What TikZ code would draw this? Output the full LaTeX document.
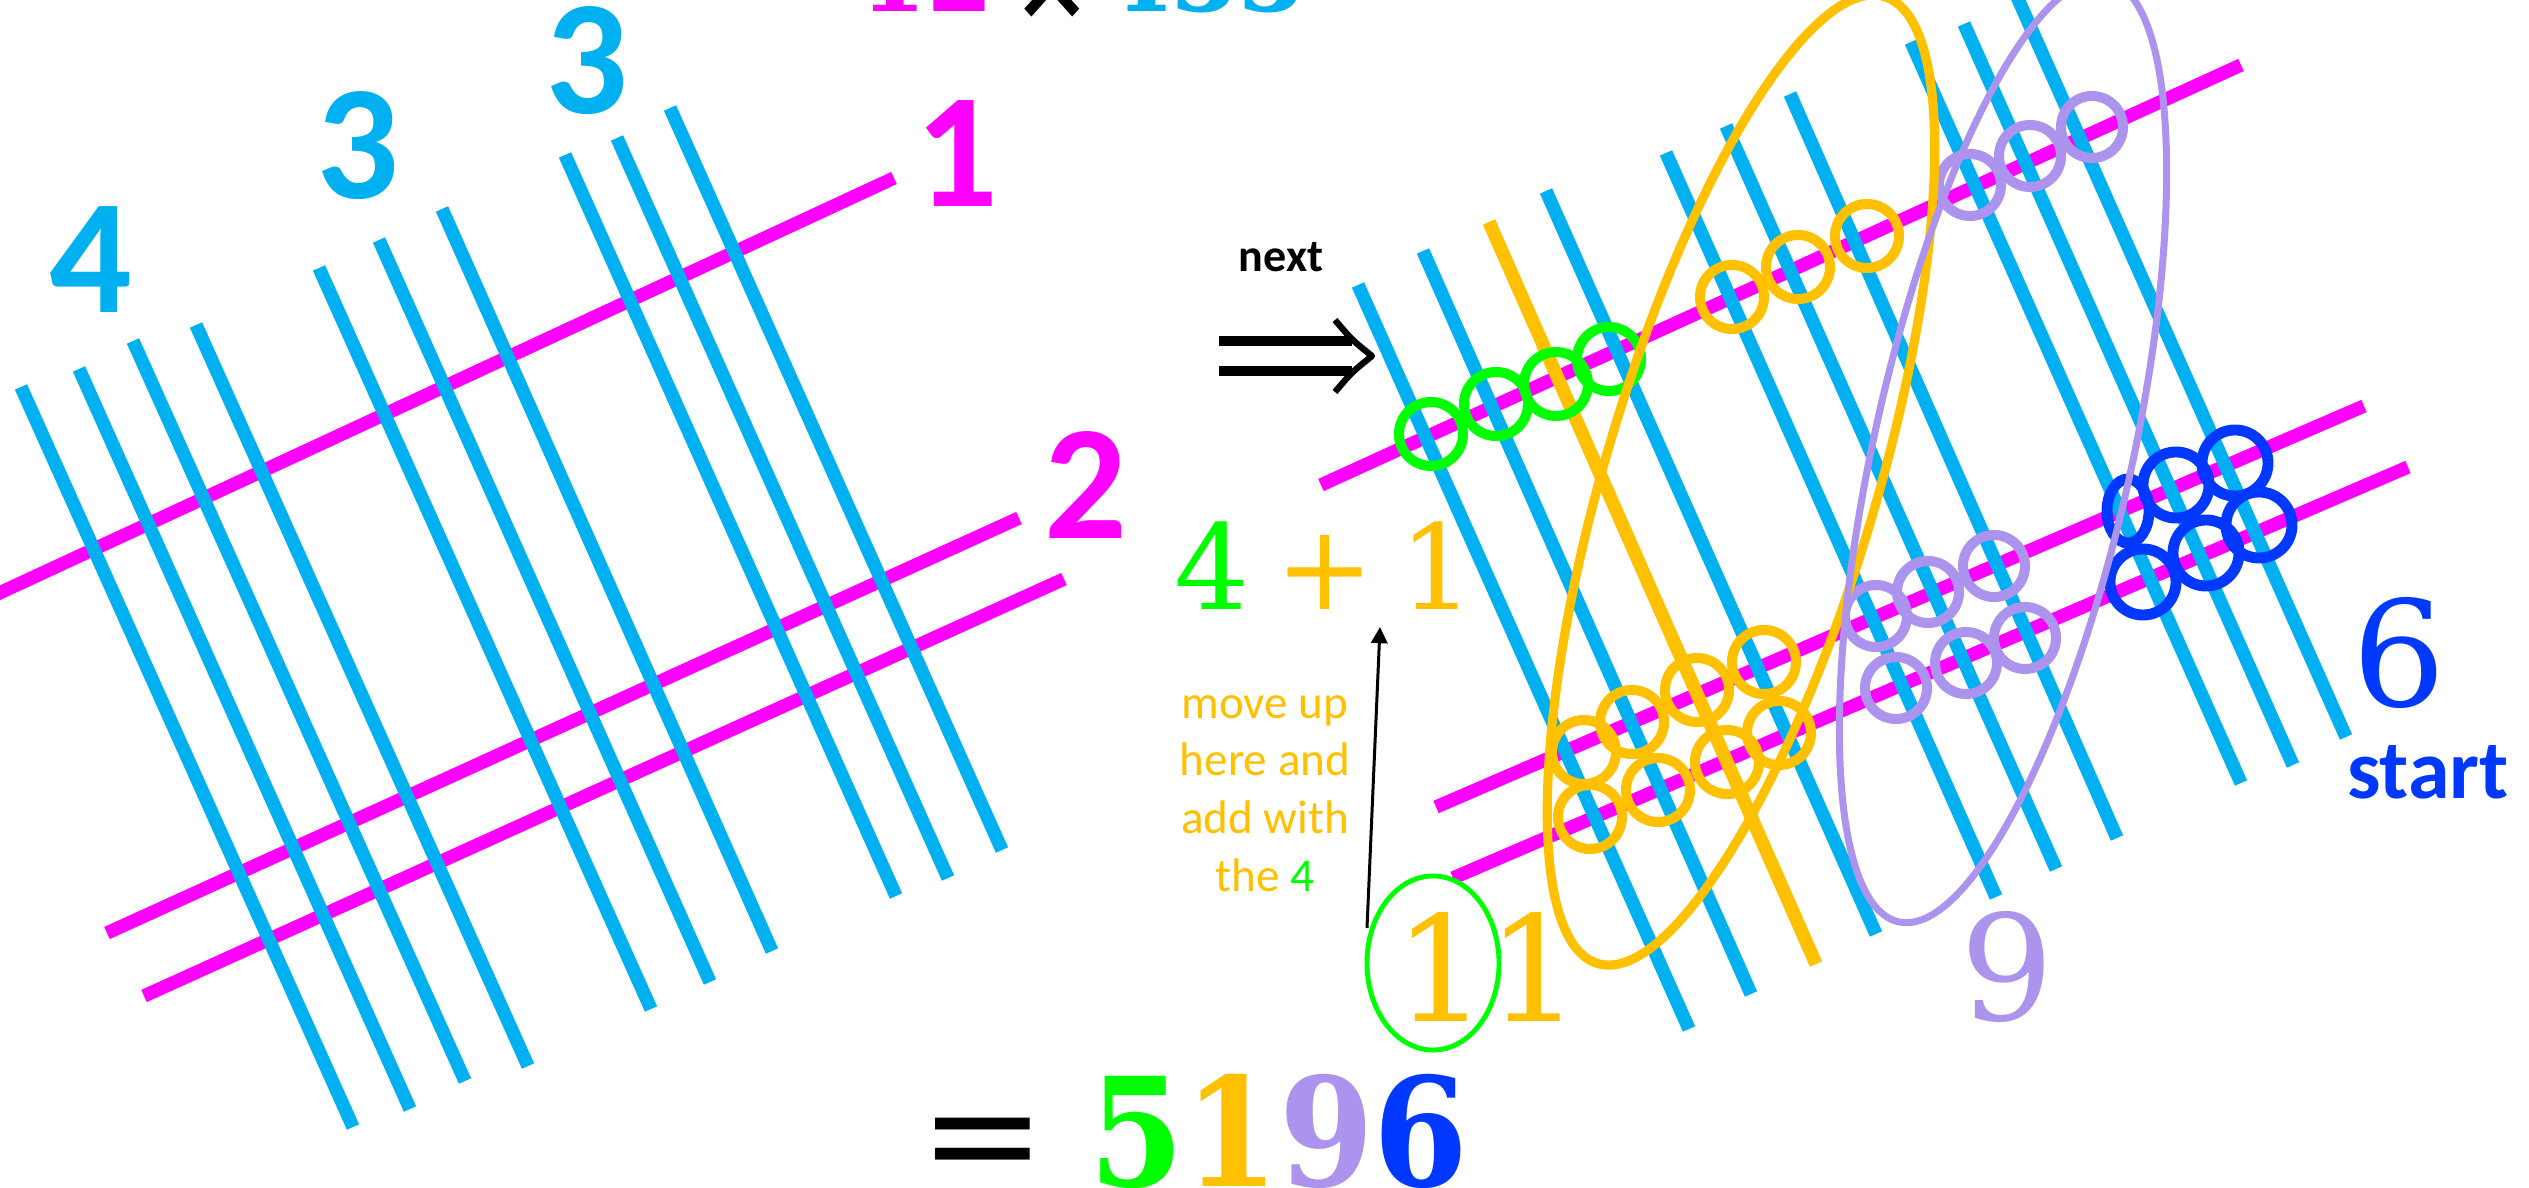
\documentclass[tikz,border=0pt]{standalone}
\usepackage{fontspec}
\usetikzlibrary{arrows.meta}
\newfontfamily\calib{Carlito}
\newfontfamily\dser{DejaVu Serif}
\definecolor{lblue}{RGB}{0,176,240}
\definecolor{mag}{RGB}{255,0,255}
\definecolor{lgreen}{RGB}{0,255,0}
\definecolor{gold}{RGB}{255,192,0}
\definecolor{lpurple}{RGB}{172,148,238}
\definecolor{dblue}{RGB}{0,56,255}
\begin{document}
\begin{tikzpicture}[x=0.01cm,y=-0.01cm,
  magline/.style={mag, line width=3.8pt},
  blueline/.style={lblue, line width=3.8pt},
  goldline/.style={gold, line width=3.8pt},
  ring/.style={line width=2.85pt},
  txt/.style={inner sep=0pt, anchor=base},
  lab/.style={txt, font=\calib\bfseries\fontsize{46.4pt}{50pt}\selectfont},
  serifnum/.style={txt, font=\dser\fontsize{41.8pt}{46pt}\selectfont},
  sumnum/.style={txt, font=\dser\fontsize{33.6pt}{38pt}\selectfont},
  bignum/.style={txt, font=\dser\bfseries\fontsize{43pt}{48pt}\selectfont, xscale=0.9},
  note/.style={txt, gold, font=\calib\fontsize{13.4pt}{16pt}\selectfont}
]
\useasboundingbox (0,0) rectangle (2529,1188);
\clip (0,0) rectangle (2529,1188);

% ---------------- left diagram ----------------
\coordinate (LMa1) at (-20,602);  \coordinate (LMb1) at (894,178);
\coordinate (LMa2) at (107,933);  \coordinate (LMb2) at (1019,518);
\coordinate (LMa3) at (144,996);  \coordinate (LMb3) at (1064,579);
\draw[magline] (LMa1) -- (LMb1);
\draw[magline] (LMa2) -- (LMb2);
\draw[magline] (LMa3) -- (LMb3);

\foreach \i/\xa/\ya/\xb/\yb in {1/21/387/353/1127, 2/79/369/410/1109, 3/133/341/465/1081,
  4/196/325/528/1066, 5/319/268/651/1009, 6/379/240/710/982, 7/442/209/772/951,
  8/565/155/896/896, 9/617/138/948/878, 10/670/108/1002/850}{
  \coordinate (LBa\i) at (\xa,\ya);
  \coordinate (LBb\i) at (\xb,\yb);
  \draw[blueline] (LBa\i) -- (LBb\i);
}

\node[lab, lblue] (l4) at (91,313) {4};
\node[lab, lblue] (l3a) at (358,199) {3};
\node[lab, lblue] (l3b) at (587,114) {3};
\node[lab, mag] (l1) at (957,207) {1};
\node[lab, mag] (l2) at (1086,538) {2};

% top (cut) title
\node[txt, mag, font=\dser\bfseries\fontsize{30pt}{34pt}\selectfont, xscale=0.9] (t12) at (927,12) {12};
\node[txt, font=\dser\bfseries\fontsize{30pt}{34pt}\selectfont, xscale=0.9] (ttimes) at (1052,20) {×};
\node[txt, lblue, font=\dser\bfseries\fontsize{30pt}{34pt}\selectfont, xscale=0.9] (t433) at (1205,12) {433};

% ---------------- right diagram ----------------
\coordinate (RMa1) at (1321,485); \coordinate (RMb1) at (2241,65);
\coordinate (RMa2) at (1436,807); \coordinate (RMb2) at (2364,406);
\coordinate (RMa3) at (1453,878); \coordinate (RMb3) at (2408,467);
\draw[magline] (RMa1) -- (RMb1);
\draw[magline] (RMa2) -- (RMb2);
\draw[magline] (RMa3) -- (RMb3);

\foreach \i/\xa/\ya/\xb/\yb in {1/1358/285/1689/1029, 2/1423/251/1751/994,
  4/1546/191/1876/934, 5/1666/153/1996/897, 6/1726/126/2056/869, 7/1790/94/2117/838,
  8/1911/42/2241/783, 9/1964/24/2293/765, 10/2014/-10/2346/737}{
  \coordinate (RBa\i) at (\xa,\ya);
  \coordinate (RBb\i) at (\xb,\yb);
  \draw[blueline] (RBa\i) -- (RBb\i);
}
\coordinate (RBa3) at (1489,222); \coordinate (RBb3) at (1816,964);
\draw[goldline] (RBa3) -- (RBb3);

% small circles
\foreach \p in {(1431,434),(1496,404),(1556,384),(1609,359)}
  \draw[ring, lgreen] \p circle[radius=0.32cm];
\foreach \p in {(1732,297),(1798,267),(1867,236),
                (1584,752),(1632,722),(1697,690),(1764,662),
                (1590,817),(1658,790),(1727,762),(1779,733)}
  \draw[ring, gold] \p circle[radius=0.32cm];
\foreach \p in {(1970,185),(2030,156),(2092,127),
                (1876,616),(1928,592),(1994,566),
                (1896,688),(1966,663),(2025,638)}
  \draw[ring, lpurple] \p circle[radius=0.31cm];
\draw[ring, dblue, line width=3.1pt] (2128,511) ellipse [x radius=0.21cm, y radius=0.32cm];
\foreach \p in {(2176,485),(2235,463),(2143,582),(2206,553),(2259,525)}
  \draw[ring, dblue, line width=3.1pt] \p circle[radius=0.33cm];

% big ellipses
\coordinate (Oc) at (1741,480);
\coordinate (Pc) at (2003,451);
\draw[gold, line width=2.6pt, rotate around={73.5:(Oc)}] (Oc) ellipse [x radius=5.04cm, y radius=1.36cm];
\draw[lpurple, line width=2pt, rotate around={77.5:(Pc)}] (Pc) ellipse [x radius=4.82cm, y radius=1.29cm];

% double arrow "next"
\draw[black, line width=3pt] (1219,341) -- (1352,341);
\draw[black, line width=3pt] (1219,371) -- (1352,371);
\draw[black, line width=1.8pt, line join=round] (1335,320) .. controls (1352,340) .. (1372,356) .. controls (1352,372) .. (1335,392);
\node[txt, font=\calib\bfseries\fontsize{13.1pt}{15pt}\selectfont] (next) at (1281,272) {next};

% sums
\node[sumnum, lgreen] (s4) at (1212,610) {4};
\node[sumnum, gold] (splus) at (1325,610) {+};
\node[sumnum, gold] (s1) at (1437,610) {1};

\node[note] (n1) at (1265,718) {move up};
\node[note] (n2) at (1265,775) {here and};
\node[note] (n3) at (1265,833) {add with};
\node[note] (n4) at (1265,891) {the \textcolor{lgreen}{4}};

\node[serifnum, gold] (d11) at (1488,1021) {11};
\draw[lgreen, line width=1.4pt] (1433,963) ellipse [x radius=0.66cm, y radius=0.87cm];
\coordinate (arrS) at (1367,928);
\coordinate (arrE) at (1380,627);
\draw[black, line width=0.85pt, -{Triangle[length=4.6pt,width=4.6pt]}] (arrS) -- (arrE);

\node[serifnum, lpurple] (d9) at (2007,1020) {9};
\node[serifnum, dblue] (d6) at (2399,706) {6};
\node[txt, dblue, font=\calib\bfseries\fontsize{23.9pt}{27pt}\selectfont] (start) at (2428,798) {start};

% result
\node[txt, font=\dser\fontsize{43pt}{48pt}\selectfont, xscale=1.0] (eq) at (983,1186) {=};
\node[bignum] (res) at (1279,1186) {\textcolor{lgreen}{5}\textcolor{gold}{1}\textcolor{lpurple}{9}\textcolor{dblue}{6}};
\end{tikzpicture}
\end{document}
